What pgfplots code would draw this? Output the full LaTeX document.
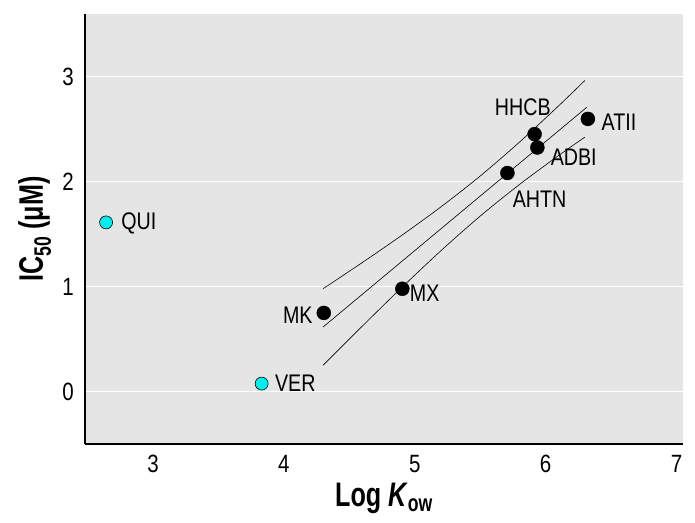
\documentclass[border=0pt]{standalone}
\usepackage{fontspec}
\setmainfont{Liberation Sans}[FakeStretch=0.82]
\newfontfamily\labelfont{Liberation Sans}[FakeStretch=0.74]
\usepackage{pgfplots}
\pgfplotsset{compat=1.18}
\definecolor{bgray}{HTML}{E5E5E5}
\definecolor{qcyan}{HTML}{00EEEE}
\begin{document}
\begin{tikzpicture}
\begin{axis}[
  at={(0,0)}, anchor=south west,
  scale only axis, width=598pt, height=430pt,
  xmin=2.48, xmax=7.05, ymin=-0.5, ymax=3.6,
  xtick={3,4,5,6,7}, ytick={0,1,2,3},
  axis x line*=bottom, axis y line*=left,
  axis line style={-, line width=1.6pt, black},
  axis background/.style={fill=bgray},
  major tick length=0pt,
  ymajorgrids, grid style={white, line width=1pt},
  /pgf/number format/assume math mode=true,
  ticklabel style={font=\fontsize{25}{27}\selectfont},
  yticklabel style={anchor=east, inner sep=0pt, xshift=-11pt},
  xticklabel style={anchor=north, inner sep=0pt, yshift=-11pt},
  xlabel={\labelfont\bfseries Log \textit{K}\textsubscript{ow}},
  ylabel={\labelfont\bfseries IC\textsubscript{50} (μM)},
  xlabel style={at={(axis description cs:0.5,-0.1465)}, anchor=base, inner sep=0pt, font=\fontsize{34}{36}\selectfont},
  ylabel style={at={(axis description cs:-0.084,0.5)}, anchor=center, inner sep=0pt, font=\fontsize{34}{36}\selectfont},
  clip=false,
]
% confidence band and regression line
\addplot[black, line width=0.6pt, smooth] coordinates {
 (4.30,0.981) (4.6,1.231) (4.9,1.489) (5.2,1.761) (5.5,2.055) (5.8,2.378) (6.1,2.725) (6.30,2.966)};
\addplot[black, line width=0.6pt] coordinates {(4.30,0.616) (6.315,2.711)};
\addplot[black, line width=0.6pt, smooth] coordinates {
 (4.30,0.251) (4.6,0.625) (4.9,0.991) (5.2,1.343) (5.5,1.673) (5.8,1.974) (6.1,2.251) (6.30,2.426)};
% black points
\addplot[only marks, mark=*, mark size=7pt, black] coordinates {
 (4.305,0.750) (4.905,0.980) (5.708,2.084) (5.916,2.455) (5.937,2.327) (6.323,2.600)};
% cyan points
\addplot[only marks, mark=*, mark size=6.5pt, draw=black, line width=0.6pt, fill=qcyan] coordinates {
 (2.641,1.613) (3.830,0.076)};
% labels
\begin{scope}[every node/.style={font=\fontsize{24}{26}\selectfont, inner sep=0pt}]
\node[anchor=west] at (axis cs:2.756,1.600) {QUI};
\node[anchor=west] at (axis cs:3.931,0.076) {VER};
\node[anchor=east] at (axis cs:4.221,0.724) {MK};
\node[anchor=west] at (axis cs:4.962,0.933) {MX};
\node[anchor=west] at (axis cs:5.748,1.829) {AHTN};
\node[anchor=west] at (axis cs:5.611,2.714) {HHCB};
\node[anchor=west] at (axis cs:6.038,2.238) {ADBI};
\node[anchor=west] at (axis cs:6.427,2.571) {ATII};
\end{scope}
\end{axis}
\pgfresetboundingbox
\path[use as bounding box] (-85pt,-78pt) rectangle (610pt,444pt);
\end{tikzpicture}
\end{document}
